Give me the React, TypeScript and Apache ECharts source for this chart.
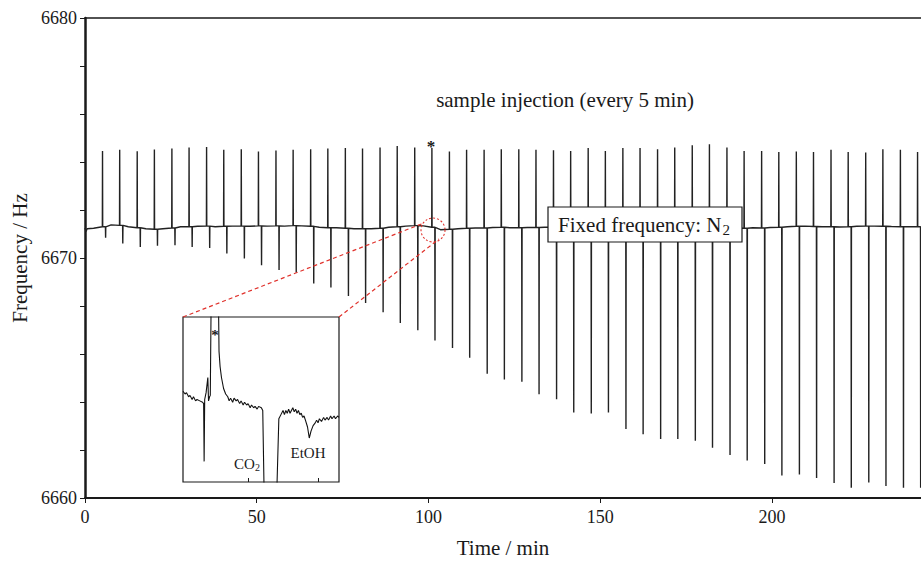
import React, { useEffect, useRef } from "react";
import * as echarts from "echarts";

// ---- data ----
// injection times (min)
const TIMES = [5.1, 10.1, 15.2, 20.2, 25.3, 30.3, 35.4, 40.4, 45.5, 50.5, 55.6, 60.6, 65.7, 70.7, 75.8, 80.8,
  85.9, 90.9, 96.0, 101.0, 106.1, 111.1, 116.2, 121.2, 126.3, 131.3, 136.4, 141.4, 146.5, 151.5, 156.6, 161.6,
  166.7, 171.7, 176.8, 181.8, 186.9, 191.9, 197.0, 202.0, 207.1, 212.1, 217.2, 222.2, 227.3, 232.3, 237.4, 242.4];
// upward spike tips (Hz)
const UP = [6674.46, 6674.51, 6674.45, 6674.52, 6674.56, 6674.60, 6674.63, 6674.51, 6674.53, 6674.44, 6674.48, 6674.51,
  6674.53, 6674.56, 6674.58, 6674.56, 6674.60, 6674.67, 6674.60, 6674.58, 6674.44, 6674.51, 6674.51, 6674.53,
  6674.53, 6674.51, 6674.49, 6674.46, 6674.58, 6674.46, 6674.58, 6674.58, 6674.53, 6674.60, 6674.70, 6674.74,
  6674.60, 6674.46, 6674.46, 6674.42, 6674.44, 6674.42, 6674.51, 6674.42, 6674.40, 6674.53, 6674.51, 6674.42];
// downward spike tips (Hz)
const DOWN = [6670.84, 6670.60, 6670.46, 6670.51, 6670.53, 6670.46, 6670.42, 6670.19, 6669.98, 6669.70, 6669.50, 6669.40,
  6668.94, 6668.77, 6668.42, 6668.12, 6667.74, 6667.29, 6666.99, 6666.56, 6666.25, 6665.84, 6665.18, 6664.94,
  6664.84, 6664.32, 6664.11, 6663.56, 6663.52, 6663.56, 6662.87, 6662.66, 6662.46, 6662.46, 6662.39, 6662.09,
  6661.79, 6661.56, 6661.42, 6660.94, 6660.98, 6660.83, 6660.63, 6660.43, 6660.65, 6660.50, 6660.43, 6660.43];
// baseline just before each injection (Hz)
const BASE_PRE = [6671.30, 6671.36, 6671.26, 6671.20, 6671.25, 6671.30, 6671.33, 6671.32, 6671.33, 6671.34, 6671.34, 6671.35,
  6671.32, 6671.26, 6671.24, 6671.22, 6671.24, 6671.30, 6671.35, 6671.28, 6671.20, 6671.24, 6671.25, 6671.28,
  6671.26, 6671.27, 6671.28, 6671.26, 6671.26, 6671.25, 6671.26, 6671.26, 6671.25, 6671.25, 6671.24, 6671.25,
  6671.24, 6671.24, 6671.25, 6671.28, 6671.32, 6671.31, 6671.30, 6671.30, 6671.33, 6671.32, 6671.30, 6671.30];
// baseline in the middle of each interval (Hz)
const BASE_MID = [6671.38, 6671.30, 6671.22, 6671.22, 6671.30, 6671.32, 6671.30, 6671.33, 6671.32, 6671.33, 6671.33, 6671.34,
  6671.28, 6671.26, 6671.22, 6671.22, 6671.28, 6671.33, 6671.34, 6671.18, 6671.22, 6671.25, 6671.27, 6671.26,
  6671.27, 6671.28, 6671.26, 6671.26, 6671.25, 6671.26, 6671.26, 6671.25, 6671.25, 6671.24, 6671.25, 6671.24,
  6671.25, 6671.26, 6671.27, 6671.30, 6671.33, 6671.30, 6671.29, 6671.32, 6671.33, 6671.31, 6671.30];
const START_T = [0, 0.3, 0.6, 2.5];
const START_V = [6671.25, 6671.10, 6671.22, 6671.24];
const END_T = 243.4;
const END_V = 6671.30;
const DOWN_DELAY = 0.9; // min between up and down spike

// inset trace (zoom around the marked injection)
const INSET_T = [100.07, 100.10, 100.12, 100.15, 100.17, 100.20, 100.22, 100.25, 100.27, 100.31, 100.35, 100.365, 100.372,
  100.38, 100.40, 100.425, 100.435, 100.45, 100.46, 100.52, 100.585, 100.60, 100.62, 100.65, 100.68, 100.71, 100.73, 100.75,
  100.78, 100.80, 100.83, 100.85, 100.88, 100.90, 100.93, 100.95, 100.98, 101.00, 101.03, 101.05, 101.08, 101.10, 101.13,
  101.15, 101.19, 101.21, 101.26, 101.36, 101.44, 101.47, 101.50, 101.52, 101.54, 101.56, 101.58, 101.60, 101.62, 101.64,
  101.66, 101.68, 101.70, 101.72, 101.74, 101.76, 101.78, 101.80, 101.82, 101.85, 101.875, 101.90, 101.93, 101.96, 101.98,
  102.00, 102.02, 102.05, 102.08, 102.10, 102.13, 102.15, 102.18, 102.20, 102.23, 102.25, 102.28, 102.30];
const INSET_V = [6671.26, 6671.24, 6671.25, 6671.22, 6671.23, 6671.20, 6671.22, 6671.19, 6671.20, 6671.19, 6671.18, 6671.17,
  6670.75, 6671.20, 6671.25, 6671.36, 6671.19, 6671.22, 6671.23, 6674.60, 6671.55, 6671.44, 6671.36, 6671.28, 6671.24,
  6671.22, 6671.19, 6671.21, 6671.18, 6671.21, 6671.19, 6671.20, 6671.17, 6671.19, 6671.16, 6671.18, 6671.16, 6671.17,
  6671.14, 6671.16, 6671.14, 6671.15, 6671.13, 6671.15, 6671.14, 6671.12, 6669.60, 6669.60, 6671.06, 6671.09, 6671.12,
  6671.09, 6671.12, 6671.10, 6671.13, 6671.10, 6671.12, 6671.14, 6671.11, 6671.13, 6671.10, 6671.12, 6671.09, 6671.10,
  6671.07, 6671.08, 6671.05, 6671.00, 6670.92, 6670.97, 6671.01, 6671.03, 6671.05, 6671.03, 6671.06, 6671.04, 6671.07,
  6671.05, 6671.07, 6671.05, 6671.08, 6671.06, 6671.08, 6671.06, 6671.08, 6671.07];
const INSET_TICKS = [101, 102];

const X_TICKS = [0, 50, 100, 150, 200];
const Y_TICKS = [6660, 6662, 6664, 6666, 6668, 6670, 6672, 6674, 6676, 6678, 6680];

const SERIF = "'Liberation Serif', 'Times New Roman', serif";
const INK = "#1a1a1a";
const RED = "#e0312b";

function buildMain(): number[][] {
  const pts: number[][] = [];
  START_T.forEach((t, i) => pts.push([t, START_V[i]]));
  TIMES.forEach((t, k) => {
    const b = BASE_PRE[k];
    pts.push([t - 0.05, b]);
    pts.push([t, UP[k]]);
    pts.push([t + 0.05, b]);
    pts.push([t + DOWN_DELAY - 0.05, b]);
    pts.push([t + DOWN_DELAY, DOWN[k]]);
    pts.push([t + DOWN_DELAY + 0.05, b]);
    if (k < BASE_MID.length) pts.push([t + 2.5, BASE_MID[k]]);
  });
  pts.push([END_T, END_V]);
  return pts;
}

export default function App() {
  const ref = useRef<HTMLDivElement>(null);
  useEffect(() => {
    if (!ref.current) return;
    const chart = echarts.init(ref.current, undefined, { renderer: "svg" });
    const mainData = buildMain();
    const insetData = INSET_T.map((t, i) => [t, INSET_V[i]]);
    chart.setOption({
      animation: false,
      backgroundColor: "#fff",
      grid: [
        { left: 85, top: 18, right: 0, bottom: 62 },
        {
          left: 183, top: 317, width: 156, height: 165, show: true,
          backgroundColor: "#fff", borderColor: INK, borderWidth: 1.2, z: 5,
        },
      ],
      xAxis: [
        {
          type: "value", gridIndex: 0, min: 0, max: END_T,
          axisLine: { show: true, onZero: false, lineStyle: { color: INK, width: 2 } },
          axisTick: { show: true, length: 5, customValues: X_TICKS, lineStyle: { color: INK, width: 1 } },
          axisLabel: {
            customValues: X_TICKS, color: INK, fontFamily: SERIF, fontSize: 18, margin: 10,
            formatter: (v: number) => String(v),
          },
          splitLine: { show: false },
          name: "Time / min", nameLocation: "middle", nameGap: 39,
          nameTextStyle: { color: INK, fontFamily: SERIF, fontSize: 21 },
        },
        {
          type: "value", gridIndex: 0, position: "top", min: 0, max: END_T,
          axisLine: { show: true, onZero: false, lineStyle: { color: INK, width: 1.5 } },
          axisTick: { show: false }, axisLabel: { show: false }, splitLine: { show: false },
        },
        {
          type: "value", gridIndex: 1, min: 100.07, max: 102.3,
          axisLine: { show: false },
          axisTick: { show: true, inside: true, length: 4, customValues: INSET_TICKS, lineStyle: { color: INK } },
          axisLabel: { show: false }, splitLine: { show: false }, z: 6,
        },
      ],
      yAxis: [
        {
          type: "value", gridIndex: 0, min: 6660, max: 6680, interval: 10,
          axisLine: { show: true, onZero: false, lineStyle: { color: INK, width: 2.5 } },
          axisTick: { show: true, length: 5, customValues: Y_TICKS, lineStyle: { color: INK } },
          axisLabel: {
            color: INK, fontFamily: SERIF, fontSize: 18, margin: 8,
            formatter: (v: number) => String(v),
          },
          splitLine: { show: false },
          name: "Frequency / Hz", nameLocation: "middle", nameGap: 54,
          nameTextStyle: { color: INK, fontFamily: SERIF, fontSize: 21 },
        },
        {
          type: "value", gridIndex: 1, min: 6670.6, max: 6671.8,
          axisLine: { show: false }, axisTick: { show: false }, axisLabel: { show: false },
          splitLine: { show: false },
        },
      ],
      series: [
        {
          type: "line", xAxisIndex: 0, yAxisIndex: 0, data: mainData, showSymbol: false,
          symbol: "none", lineStyle: { color: "#222", width: 1.4 }, z: 2,
        },
        {
          type: "line", xAxisIndex: 2, yAxisIndex: 1, data: insetData, showSymbol: false,
          symbol: "none", clip: true, lineStyle: { color: "#111", width: 1.1 }, z: 6,
        },
      ],
      graphic: [
        {
          type: "text", x: 565, y: 100, z: 20,
          style: {
            text: "sample injection (every 5 min)", fill: INK, font: `21px ${SERIF}`,
            textAlign: "center", textVerticalAlign: "middle",
          },
        },
        {
          type: "text", x: 431, y: 146, z: 20,
          style: { text: "*", fill: INK, font: `bold 17px ${SERIF}`, textAlign: "center", textVerticalAlign: "middle" },
        },
        {
          type: "rect", z: 20,
          shape: { x: 548, y: 207, width: 194, height: 35 },
          style: { fill: "#fff", stroke: INK, lineWidth: 1.2 },
        },
        {
          type: "text", x: 644, y: 225, z: 21,
          style: {
            text: "{a|Fixed frequency: N}{b|2}",
            textAlign: "center", textVerticalAlign: "middle",
            rich: {
              a: { fontFamily: SERIF, fontSize: 21, fill: INK, color: INK },
              b: { fontFamily: SERIF, fontSize: 15, fill: INK, color: INK, padding: [10, 0, 0, 1] },
            },
          },
        },
        {
          type: "circle", z: 20,
          shape: { cx: 433, cy: 230, r: 12 },
          style: { fill: "none", stroke: RED, lineWidth: 1.1, lineDash: [2, 2] },
        },
        {
          type: "line", z: 20,
          shape: { x1: 183, y1: 317, x2: 424, y2: 223 },
          style: { stroke: RED, lineWidth: 1.2, lineDash: [4, 3] },
        },
        {
          type: "line", z: 20,
          shape: { x1: 339, y1: 317, x2: 439, y2: 239 },
          style: { stroke: RED, lineWidth: 1.2, lineDash: [4, 3] },
        },
        {
          type: "text", x: 215, y: 335, z: 21,
          style: { text: "*", fill: INK, font: `bold 15px ${SERIF}`, textAlign: "center", textVerticalAlign: "middle" },
        },
        {
          type: "text", x: 247, y: 464, z: 21,
          style: {
            text: "{a|CO}{b|2}", textAlign: "center", textVerticalAlign: "middle",
            rich: {
              a: { fontFamily: SERIF, fontSize: 15, fill: INK, color: INK },
              b: { fontFamily: SERIF, fontSize: 10, fill: INK, color: INK, padding: [7, 0, 0, 0] },
            },
          },
        },
        {
          type: "text", x: 308, y: 453, z: 21,
          style: { text: "EtOH", fill: INK, font: `15px ${SERIF}`, textAlign: "center", textVerticalAlign: "middle" },
        },
      ],
    });
    return () => chart.dispose();
  }, []);
  return (
    <div
      ref={ref}
      style={{ position: "fixed", left: 0, top: 0, width: 921, height: 563, background: "#fff" }}
    />
  );
}
